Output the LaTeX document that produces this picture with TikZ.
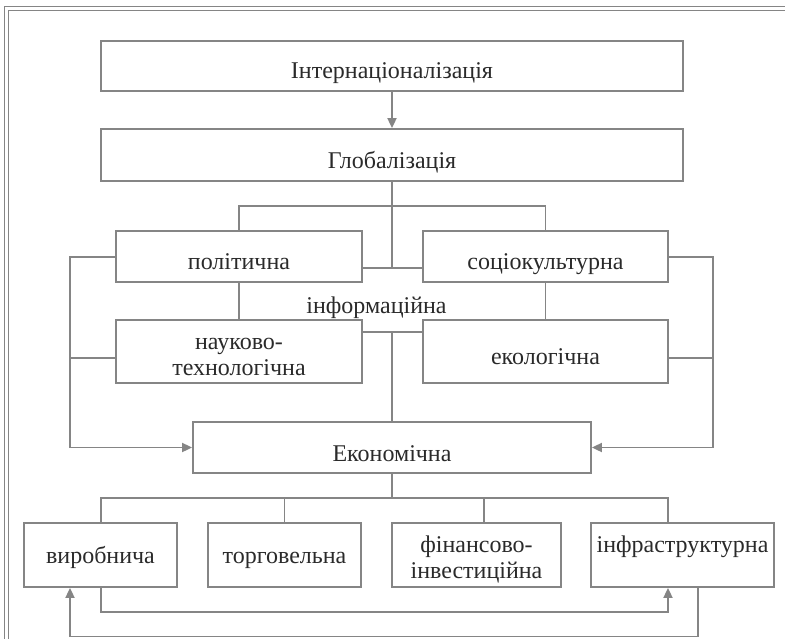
\documentclass[tikz,border=0pt]{standalone}
\usepackage{fontspec}
\setmainfont{Liberation Serif}
\usetikzlibrary{arrows.meta}
\definecolor{ln}{HTML}{858585}
\definecolor{tx}{HTML}{2A2A2A}
\newcommand{\blow}[2]{\raisebox{-#1}[0pt][0pt]{#2}}
\newcommand{\tworow}[3]{\raisebox{#1}[0pt][0pt]{\begin{tabular}[t]{@{}c@{}}#2\\#3\end{tabular}}}
\begin{document}
\begin{tikzpicture}[x=1pt,y=-1pt,
  box/.style={draw=ln,line width=1.8pt,rectangle,inner sep=0pt,text=tx,
    font=\fontsize{24}{26.5}\selectfont},
  lbl/.style={text=tx,inner sep=0pt,font=\fontsize{24}{26.5}\selectfont},
  conn/.style={draw=ln,line width=1.8pt},
  arr/.style={conn,-{Triangle[length=10pt,width=9pt]}},
  frame/.style={draw=ln,line width=1.4pt}]
\useasboundingbox (0,0) rectangle (785,638);
% frame
\draw[frame] (4.5,640) -- (4.5,6.5) -- (786,6.5);
\draw[frame] (8.5,640) -- (8.5,10.5) -- (786,10.5);
% boxes
\node[box,minimum width=582pt,minimum height=50pt] (int) at (392,66) {\blow{12.5pt}{Інтернаціоналізація}};
\node[box,minimum width=582pt,minimum height=52pt] (glob) at (392,155) {\blow{13pt}{Глобалізація}};
\node[box,minimum width=246pt,minimum height=51pt] (pol) at (239,256.5) {\blow{13pt}{політична}};
\node[box,minimum width=245pt,minimum height=51pt] (soc) at (545.5,256.5) {\blow{13pt}{соціокультурна}};
\node[box,minimum width=246pt,minimum height=63pt] (nauk) at (239,351.5) {\tworow{2.5pt}{науково-}{технологічна}};
\node[box,minimum width=245pt,minimum height=63pt] (eko) at (545.5,351.5) {\blow{12.5pt}{екологічна}};
\node[box,minimum width=398pt,minimum height=51pt] (ekon) at (392,447.5) {\blow{14pt}{Економічна}};
\node[box,minimum width=153pt,minimum height=64pt] (vyr) at (100.5,555) {\blow{8pt}{виробнича}};
\node[box,minimum width=153pt,minimum height=64pt] (torh) at (284.5,555) {\blow{8pt}{торговельна}};
\node[box,minimum width=169pt,minimum height=64pt] (fin) at (476.5,555) {\tworow{3pt}{фінансово-}{інвестиційна}};
\node[box,minimum width=183pt,minimum height=64pt] (infra) at (682.5,555) {\blow{-3pt}{інфраструктурна}};
\node[lbl,anchor=base] (inf) at (376.5,313) {інформаційна};
% connectors top
\draw[arr] (int.south) -- (glob.north);
\draw[conn] (glob.south) -- (392,268);
\draw[conn] (pol.north) -- (239,206) -- (545.5,206) -- (soc.north);
\draw[conn] (pol.east |- 0,268) -- (soc.west |- 0,268);
\draw[conn] (pol.south) -- (nauk.north);
\draw[conn] (soc.south) -- (eko.north);
\draw[conn] (nauk.east |- 0,332) -- (eko.west |- 0,332);
\draw[conn] (392,332) -- (ekon.north);
% side loops
\draw[arr] (pol.west |- 0,257) -- (70,257) -- (70,447.5) -- (ekon.west);
\draw[conn] (70,358) -- (nauk.west |- 0,358);
\draw[arr] (soc.east |- 0,257) -- (713,257) -- (713,447.5) -- (ekon.east);
\draw[conn] (713,358) -- (eko.east |- 0,358);
% bottom
\draw[conn] (ekon.south) -- (392,498);
\draw[conn] (vyr.north -| 101,0) -- (101,498) -- (668,498) -- (infra.north -| 668,0);
\draw[conn] (284.5,498) -- (torh.north);
\draw[conn] (484,498) -- (fin.north -| 484,0);
\draw[arr] (vyr.south -| 101,0) -- (101,612) -- (668,612) -- (infra.south -| 668,0);
\draw[arr] (infra.south -| 698,0) -- (698,636.5) -- (70,636.5) -- (vyr.south -| 70,0);
\end{tikzpicture}
\end{document}
